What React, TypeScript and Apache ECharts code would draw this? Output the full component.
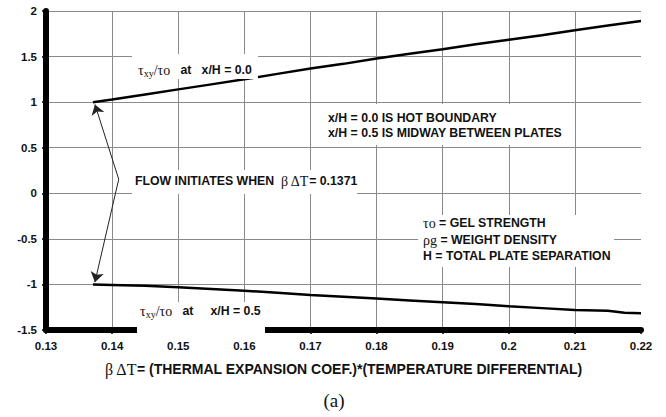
import React, { useEffect, useRef } from "react";
import * as echarts from "echarts";

const xTop = [0.1371, 0.14, 0.145, 0.15, 0.155, 0.16, 0.165, 0.17, 0.175, 0.18, 0.185, 0.19, 0.195, 0.2, 0.205, 0.21, 0.215, 0.22];
const yTop = [1.0, 1.03, 1.085, 1.14, 1.195, 1.25, 1.31, 1.37, 1.42, 1.48, 1.53, 1.58, 1.635, 1.685, 1.735, 1.79, 1.84, 1.89];
const xBot = [0.1371, 0.14, 0.145, 0.15, 0.155, 0.16, 0.165, 0.17, 0.175, 0.18, 0.185, 0.19, 0.195, 0.2, 0.205, 0.21, 0.215, 0.2175, 0.22];
const yBot = [-1.0, -1.005, -1.015, -1.03, -1.05, -1.07, -1.09, -1.115, -1.135, -1.155, -1.175, -1.195, -1.215, -1.24, -1.26, -1.28, -1.29, -1.31, -1.315];

const arrowVertex = [0.141, 0.154];
const arrowTipTop = [0.1374, 0.975];
const arrowTipBot = [0.1374, -0.975];

const SANS = "'Liberation Sans', Arial, sans-serif";
const SERIF = "'Liberation Serif', 'Times New Roman', serif";

const rich = {
  b: { fontFamily: SANS, fontWeight: "bold", fontSize: 12.3, fill: "#111" },
  t: { fontFamily: SERIF, fontSize: 14, fill: "#111" },
  s: { fontFamily: SERIF, fontSize: 10, fill: "#111", verticalAlign: "bottom", padding: [6, 0, 0, 0] },
  g: { fontFamily: SERIF, fontSize: 14, fill: "#111" },
};

export default function App() {
  const ref = useRef<HTMLDivElement>(null);
  useEffect(() => {
    const chart = echarts.init(ref.current!, null, { renderer: "svg" });
    const box = (x: number, y: number, w: number, h: number) => ({
      type: "rect",
      z: 100,
      shape: { x, y, width: w, height: h },
      style: { fill: "#fff" },
    });
    const txt = (x: number, y: number, text: string) => ({
      type: "text",
      z: 101,
      x,
      y,
      style: { text, rich, verticalAlign: "middle", align: "left" },
    });
    chart.setOption({
      animation: false,
      grid: { left: 46, right: 25, top: 11, bottom: 87 },
      xAxis: {
        type: "value",
        min: 0.13,
        max: 0.22,
        interval: 0.01,
        name: "{g|β ΔT}{b|= (THERMAL EXPANSION COEF.)*(TEMPERATURE DIFFERENTIAL)}",
        nameLocation: "middle",
        nameGap: 31,
        nameMoveOverlap: false,
        nameTextStyle: {
          rich: {
            b: { fontFamily: SANS, fontWeight: "bold", fontSize: 14, color: "#111" },
            g: { fontFamily: SERIF, fontSize: 16, color: "#111" },
          },
        },
        axisLine: { show: true, onZero: false, lineStyle: { color: "#000", width: 6 } },
        axisTick: { show: true, length: 4, lineStyle: { color: "#000", width: 1.5 } },
        axisLabel: {
          margin: 10,
          fontFamily: SANS,
          fontWeight: "bold",
          fontSize: 11.5,
          color: "#111",
          formatter: (v: number) => String(+v.toFixed(2)),
        },
        splitLine: { show: true, showMinLine: false, showMaxLine: false, lineStyle: { color: "#8a8a8a", width: 1 } },
      },
      yAxis: {
        type: "value",
        min: -1.5,
        max: 2,
        interval: 0.5,
        axisLine: { show: true, lineStyle: { color: "#000", width: 6 } },
        axisTick: { show: true, length: 4, lineStyle: { color: "#000", width: 1.5 } },
        axisLabel: {
          margin: 9,
          fontFamily: SANS,
          fontWeight: "bold",
          fontSize: 11.5,
          color: "#111",
          formatter: (v: number) => String(+v.toFixed(2)),
        },
        splitLine: { show: true, showMinLine: false, lineStyle: { color: "#8a8a8a", width: 1 } },
      },
      series: [
        {
          type: "line",
          data: xTop.map((x, i) => [x, yTop[i]]),
          symbol: "none",
          itemStyle: { color: "#111" },
          lineStyle: { color: "#000", width: 2.5 },
          markLine: {
            silent: true,
            symbol: ["none", "arrow"],
            symbolSize: 10,
            label: { show: false },
            lineStyle: { color: "#222", width: 1, type: "solid" },
            data: [
              [{ coord: arrowVertex }, { coord: arrowTipTop }],
              [{ coord: arrowVertex }, { coord: arrowTipBot }],
            ],
          },
        },
        {
          type: "line",
          data: xBot.map((x, i) => [x, yBot[i]]),
          symbol: "none",
          itemStyle: { color: "#111" },
          lineStyle: { color: "#000", width: 2.5 },
        },
      ],
      graphic: [
        box(132, 54, 126, 25),
        txt(138, 70, "{t|τ}{s|xy}{t|/τo}{b|   at   x/H = 0.0}"),
        box(132, 170, 225, 24),
        txt(135, 181, "{b|FLOW INITIATES WHEN  }{g|β ΔT}{b|= 0.1371}"),
        box(322, 104, 248, 41),
        txt(328, 118, "{b|x/H = 0.0 IS HOT BOUNDARY}"),
        txt(328, 133, "{b|x/H = 0.5 IS MIDWAY BETWEEN PLATES}"),
        box(418, 215, 196, 52),
        txt(423, 223, "{t|τo}{b| = GEL STRENGTH}"),
        txt(423, 240, "{t|ρg}{b| = WEIGHT DENSITY}"),
        txt(423, 256, "{b|H = TOTAL PLATE SEPARATION}"),
        box(137, 302, 128, 33),
        txt(140, 311, "{t|τ}{s|xy}{t|/τo}{b|   at     x/H = 0.5}"),
        {
          type: "text",
          z: 101,
          x: 334,
          y: 400,
          style: {
            text: "(a)",
            fontFamily: SERIF,
            fontSize: 19,
            fill: "#111",
            align: "center",
            verticalAlign: "middle",
          },
        },
      ],
    });
    return () => chart.dispose();
  }, []);
  return <div ref={ref} style={{ width: 666, height: 417, position: "absolute", left: 0, top: 0 }} />;
}
